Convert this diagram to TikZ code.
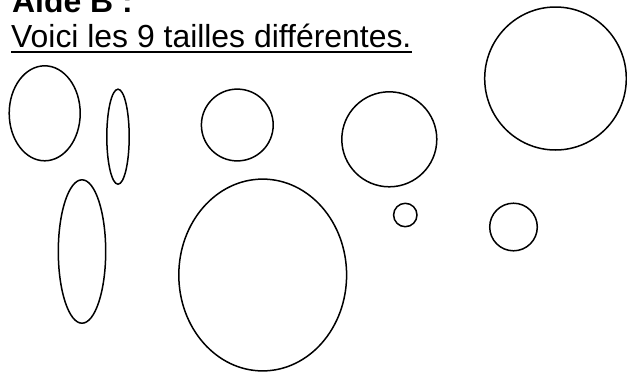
\documentclass[tikz,border=0pt]{standalone}
\usepackage{fontspec}
\setmainfont{Liberation Sans}
\usepackage{tikz}
\usetikzlibrary{positioning}

\begin{document}
\begin{tikzpicture}[x=1pt, y=-1pt,
  outline/.style={line width=1.5pt, black},
  heading/.style={font=\fontsize{31.9pt}{38pt}\selectfont, inner sep=0pt, anchor=base west}]

% --- Frame ---
\useasboundingbox (0, 0) rectangle (627, 373);

% --- Title lines ---
\node[heading, font=\fontsize{31.9pt}{38pt}\selectfont\bfseries] (aide) at (12, 12.5) {Aide B :};
\node[heading] (voici) at (11, 47) {Voici les 9 tailles différentes.};
\draw[line width=2pt] ([yshift=-5pt]voici.base west) -- ([yshift=-5pt]voici.base east);

% --- The nine sizes ---
\foreach \cx/\cy/\rx/\ry in {
  44.7/113.3/35.5pt/47.5pt,
  118/136.7/11.2pt/47.5pt,
  237.3/125/35.9pt/35.9pt,
  389.3/139.3/47.5pt/47.5pt,
  555.5/78.5/70.8pt/71.5pt,
  82/251.5/23.7pt/71.7pt,
  262.7/275/83.9pt/95.9pt,
  405.3/215/11.7pt/11.7pt,
  513.5/227/23.8pt/23.8pt} {
  \draw[outline] (\cx, \cy) ellipse [x radius=\rx, y radius=\ry];
}

\end{tikzpicture}
\end{document}
